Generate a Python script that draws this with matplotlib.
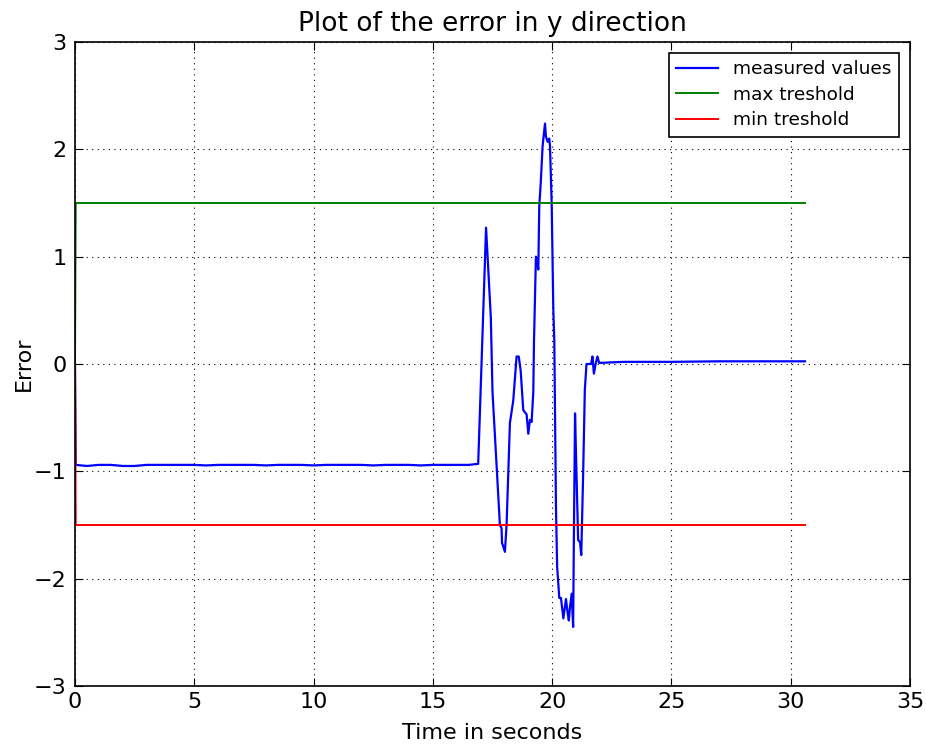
import matplotlib
matplotlib.use("Agg")
import matplotlib.pyplot as plt

# time (s) and measured error
time_s = [0.0, 0.03, 0.5, 1.0, 1.5, 2.0, 2.5, 3.0, 3.5, 4.0, 4.5, 5.0, 5.5, 6.0, 6.5, 7.0,
          7.5, 8.0, 8.5, 9.0, 9.5, 10.0, 10.5, 11.0, 11.5, 12.0, 12.5, 13.0, 13.5, 14.0,
          14.5, 15.0, 15.5, 16.0, 16.5, 16.9,
          17.23, 17.43, 17.5, 17.81, 17.88, 17.9, 17.92, 18.02, 18.09, 18.23, 18.37,
          18.51, 18.6, 18.68, 18.79, 18.93, 19.0, 19.07, 19.14, 19.21, 19.24, 19.32,
          19.38, 19.42, 19.46, 19.52, 19.6, 19.7, 19.74, 19.81, 19.88, 19.91, 19.98,
          20.05, 20.09, 20.16, 20.21, 20.3, 20.37, 20.47, 20.58, 20.65, 20.7, 20.75,
          20.82, 20.88, 20.91, 20.96, 21.02, 21.09, 21.17, 21.22, 21.3, 21.37, 21.44,
          21.63, 21.69, 21.75, 21.82, 21.9, 21.97, 23.0, 25.0, 27.0, 29.0, 30.6]
error_y = [0.0, -0.94, -0.95, -0.94, -0.94, -0.95, -0.95, -0.94, -0.94, -0.94, -0.94,
           -0.94, -0.945, -0.94, -0.94, -0.94, -0.94, -0.945, -0.94, -0.94, -0.94, -0.945,
           -0.94, -0.94, -0.94, -0.94, -0.945, -0.94, -0.94, -0.94, -0.945, -0.94, -0.94,
           -0.94, -0.94, -0.93,
           1.27, 0.43, -0.26, -1.5, -1.53, -1.67, -1.68, -1.75, -1.5, -0.55, -0.34,
           0.07, 0.07, -0.06, -0.43, -0.47, -0.65, -0.52, -0.54, -0.26, 0.22, 1.0,
           0.95, 0.88, 1.47, 1.68, 2.03, 2.24, 2.12, 2.07, 2.1, 2.03, 1.5,
           0.5, 0.22, -1.33, -1.89, -2.18, -2.18, -2.37, -2.19, -2.32, -2.39, -2.26,
           -2.14, -2.45, -1.64, -0.46, -1.02, -1.64, -1.66, -1.78, -1.02, -0.24, 0.0,
           0.0, 0.07, -0.09, 0.0, 0.07, 0.01, 0.02, 0.02, 0.025, 0.025, 0.025]

threshold_t = [0.0, 0.03, 30.6]
max_threshold = [0.0, 1.5, 1.5]
min_threshold = [0.0, -1.5, -1.5]

plt.rcParams['font.family'] = ['DejaVu Sans']
fig = plt.figure(figsize=(9.26, 7.44), dpi=100)
ax = fig.add_axes([75/926, 1 - 686/744, 835/926, 644/744])

ax.plot(time_s, error_y, color='blue', lw=1.6, label='measured values')
ax.plot(threshold_t, max_threshold, color='green', lw=1.4, label='max treshold')
ax.plot(threshold_t, min_threshold, color='red', lw=1.4, label='min treshold')

ax.set_xlim(0, 35)
ax.set_ylim(-3, 3)
ax.set_xticks(range(0, 36, 5))
ax.set_yticks(range(-3, 4))
ax.grid(True, color='black', linestyle=(0, (1, 4)), linewidth=0.8)
ax.tick_params(direction='in', top=True, right=True, length=6, labelsize=16)
ax.tick_params(axis='x', pad=4)
ax.tick_params(axis='y', pad=6)
for s in ax.spines.values():
    s.set_linewidth(1.2)
ax.set_title('Plot of the error in y direction', fontsize=19, pad=8)
ax.set_xlabel('Time in seconds', fontsize=16, labelpad=8)
ax.set_ylabel('Error', fontsize=16, labelpad=0)

leg = ax.legend(loc='upper right', fontsize=13.3, fancybox=False, framealpha=1,
                edgecolor='black', borderaxespad=0.6, handlelength=2.3,
                labelspacing=0.4)
leg.get_frame().set_linewidth(1.2)

fig.savefig('out.png', dpi=100)
